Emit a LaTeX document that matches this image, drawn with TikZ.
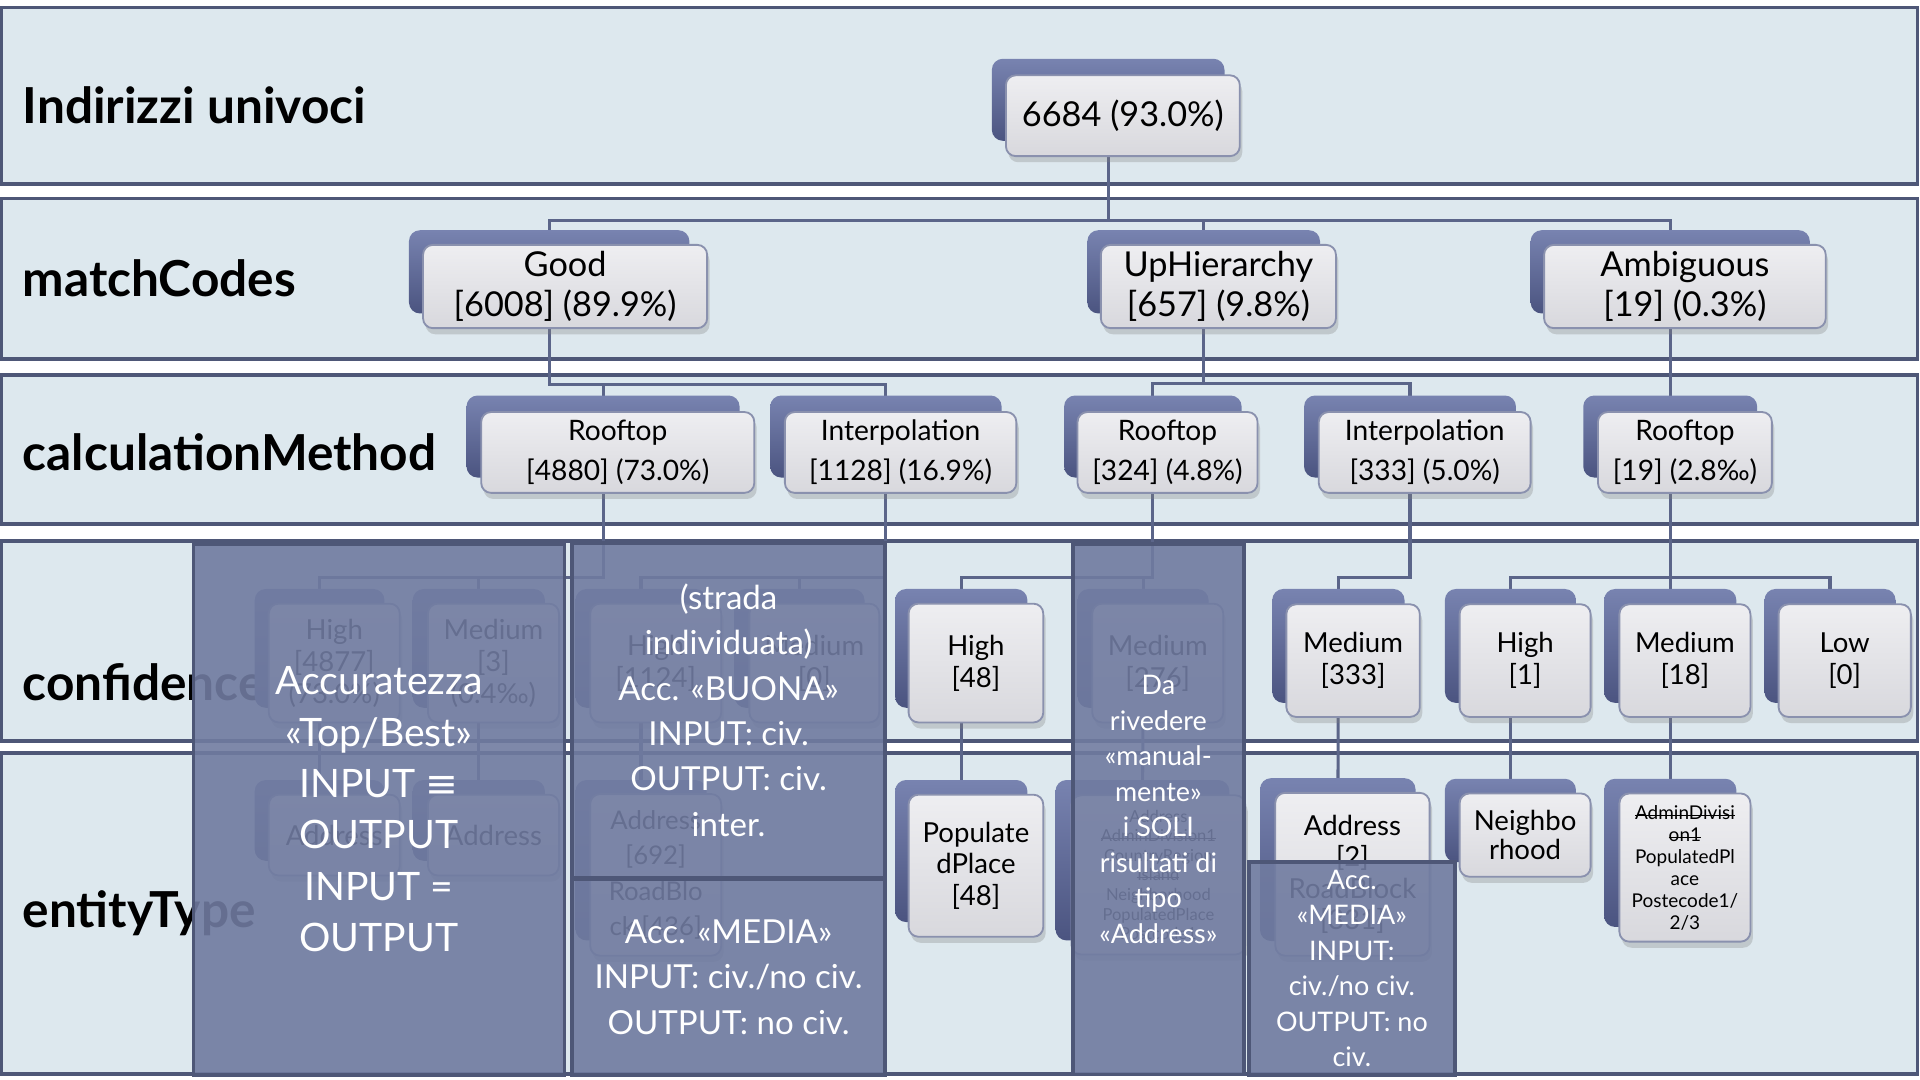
\documentclass[tikz,border=0pt]{standalone}
\usepackage{fontspec}
\setmainfont{Lato}
\newfontfamily\symf{DejaVu Sans}
\usetikzlibrary{shadows}

\newsavebox\strkbox
\newcommand\strk[1]{\sbox\strkbox{#1}\rlap{\raisebox{0.3ex}{\rule{\wd\strkbox}{0.07em}}}\usebox\strkbox}

\definecolor{bandfill}{HTML}{DDE8EE}
\definecolor{bandline}{HTML}{4E5777}
\definecolor{linkc}{HTML}{5B6589}
\definecolor{backtop}{HTML}{7883B0}
\definecolor{backbot}{HTML}{4B5480}
\definecolor{fronttop}{HTML}{EEEEF1}
\definecolor{frontbot}{HTML}{D8D8DD}
\definecolor{frontline}{HTML}{8A91AE}
\definecolor{ovl}{HTML}{707BA0}

\pgfdeclarelayer{bands}
\pgfdeclarelayer{links}
\pgfsetlayers{bands,links,main}

\begin{document}
\begin{tikzpicture}[x=1pt, y=-1pt,
    band/.style={draw=bandline, fill=bandfill, line width=3pt},
    bandlabel/.style={anchor=west, font=\fontsize{40.5}{44}\selectfont\bfseries},
    back/.style={rounded corners=9pt, top color=backtop, bottom color=backbot, draw=none, inner sep=0pt, outer sep=0pt},
    front/.style={rounded corners=8pt, top color=fronttop, bottom color=frontbot, draw=frontline, line width=1.5pt,
        inner sep=0pt, align=center, drop shadow={shadow xshift=2pt, shadow yshift=-5pt, opacity=0.3}},
    tA/.style={font=\fontsize{28}{33}\selectfont},
    tB/.style={font=\fontsize{23}{33}\selectfont},
    tC/.style={font=\fontsize{22.5}{26}\selectfont},
    tD/.style={font=\fontsize{15.5}{18}\selectfont},
    tE/.style={font=\fontsize{13.5}{16}\selectfont},
    link/.style={draw=linkc, line width=2.5pt},
    note/.style={draw=bandline, line width=3pt, fill=ovl, fill opacity=0.9, text opacity=1, text=white,
        align=center, inner sep=0pt}]

    \useasboundingbox (0,0) rectangle (1568,882);

    % Bands
    \begin{pgfonlayer}{bands}
        \draw[band] (1,6) rectangle (1566,150);
        \draw[band] (1,162) rectangle (1566,293);
        \draw[band] (1,306) rectangle (1566,428);
        \draw[band] (1,442) rectangle (1566,605);
        \draw[band] (1,615) rectangle (1566,877);
    \end{pgfonlayer}

    % Band labels
    \node[bandlabel] (lab1) at (15,86) {Indirizzi univoci};
    \node[bandlabel] (lab2) at (15,227) {matchCodes};
    \node[bandlabel] (lab3) at (15,369) {calculationMethod};
    \node[bandlabel] (lab4) at (15,557) {confidence};
    \node[bandlabel] (lab5) at (15,746) {entityType};

    % Indirizzi univoci
    \node[back, minimum width=190pt, minimum height=67pt] (root) at (905,81.5) {};
    \node[front, tA, minimum width=191pt, minimum height=66pt] (root-f) at ([shift={(12,13)}]root.center) {6684 (93.0\%)};

    % matchCodes
    \node[back, minimum width=229pt, minimum height=68pt] (good) at (448.5,222) {};
    \node[front, tA, minimum width=232pt, minimum height=68pt] (good-f) at ([shift={(13,12)}]good.center) {Good\\{[6008] (89.9\%)}};
    \node[back, minimum width=190pt, minimum height=68pt] (uph) at (983,222) {};
    \node[front, tA, minimum width=192pt, minimum height=68pt] (uph-f) at ([shift={(12,12)}]uph.center) {UpHierarchy\\{[657] (9.8\%)}};
    \node[back, minimum width=228pt, minimum height=68pt] (amb) at (1364,222) {};
    \node[front, tA, minimum width=230pt, minimum height=68pt] (amb-f) at ([shift={(12,12)}]amb.center) {Ambiguous\\{[19] (0.3\%)}};

    % calculationMethod
    \node[back, minimum width=223pt, minimum height=67pt] (roof1) at (492.5,356.5) {};
    \node[front, tB, minimum width=223pt, minimum height=66pt] (roof1-f) at ([shift={(12,13)}]roof1.center) {Rooftop\\{[4880] (73.0\%)}};
    \node[back, minimum width=189pt, minimum height=67pt] (interp1) at (723.5,356.5) {};
    \node[front, tB, minimum width=189pt, minimum height=66pt] (interp1-f) at ([shift={(12,13)}]interp1.center) {Interpolation\\{[1128] (16.9\%)}};
    \node[back, minimum width=145pt, minimum height=67pt] (roof2) at (941.5,356.5) {};
    \node[front, tB, minimum width=147pt, minimum height=66pt] (roof2-f) at ([shift={(12,13)}]roof2.center) {Rooftop\\{[324] (4.8\%)}};
    \node[back, minimum width=173pt, minimum height=67pt] (interp2) at (1151.5,356.5) {};
    \node[front, tB, minimum width=173pt, minimum height=66pt] (interp2-f) at ([shift={(12,13)}]interp2.center) {Interpolation\\{[333] (5.0\%)}};
    \node[back, minimum width=142pt, minimum height=67pt] (roof3) at (1364,356.5) {};
    \node[front, tB, minimum width=142pt, minimum height=66pt] (roof3-f) at ([shift={(12,13)}]roof3.center) {Rooftop\\{[19] (2.8‰)}};

    % confidence
    \node[back, minimum width=106pt, minimum height=97pt] (hiA) at (261,529.5) {};
    \node[front, tC, minimum width=107pt, minimum height=97pt] (hiA-f) at ([shift={(12,12)}]hiA.center) {High\\{[4877]}\\(73.0\%)};
    \node[back, minimum width=108pt, minimum height=97pt] (meA) at (391,529.5) {};
    \node[front, tC, minimum width=107pt, minimum height=97pt] (meA-f) at ([shift={(12,12)}]meA.center) {Medium\\{[3]}\\(0.4‰)};
    \node[back, minimum width=107pt, minimum height=97pt] (hiB) at (523.5,529.5) {};
    \node[front, tC, minimum width=107pt, minimum height=97pt] (hiB-f) at ([shift={(12,12)}]hiB.center) {High\\{[1124]}};
    \node[back, minimum width=106pt, minimum height=97pt] (meB) at (653,529.5) {};
    \node[front, tC, minimum width=106pt, minimum height=97pt] (meB-f) at ([shift={(12,12)}]meB.center) {Medium\\{[0]}};
    \node[back, minimum width=108pt, minimum height=97pt] (hiC) at (785,529.5) {};
    \node[front, tC, minimum width=110pt, minimum height=97pt] (hiC-f) at ([shift={(12,12)}]hiC.center) {High\\{[48]}};
    \node[back, minimum width=107pt, minimum height=97pt] (meC) at (933.5,529.5) {};
    \node[front, tC, minimum width=107pt, minimum height=97pt] (meC-f) at ([shift={(12,12)}]meC.center) {Medium\\{[276]}};
    \node[back, minimum width=108pt, minimum height=93pt] (meD) at (1093,527.5) {};
    \node[front, tC, minimum width=109pt, minimum height=92pt] (meD-f) at ([shift={(12,12)}]meD.center) {Medium\\{[333]}};
    \node[back, minimum width=107pt, minimum height=93pt] (hiE) at (1233.5,527.5) {};
    \node[front, tC, minimum width=107pt, minimum height=92pt] (hiE-f) at ([shift={(12,12)}]hiE.center) {High\\{[1]}};
    \node[back, minimum width=108pt, minimum height=93pt] (meE) at (1364,527.5) {};
    \node[front, tC, minimum width=107pt, minimum height=92pt] (meE-f) at ([shift={(12,12)}]meE.center) {Medium\\{[18]}};
    \node[back, minimum width=107pt, minimum height=93pt] (loE) at (1494.5,527.5) {};
    \node[front, tC, minimum width=108pt, minimum height=92pt] (loE-f) at ([shift={(12,12)}]loE.center) {Low\\{[0]}};

    % entityType
    \node[back, minimum width=106pt, minimum height=66pt] (adA) at (261,670) {};
    \node[front, tC, minimum width=107pt, minimum height=66pt] (adA-f) at ([shift={(12,12)}]adA.center) {Address};
    \node[back, minimum width=108pt, minimum height=66pt] (adB) at (391,670) {};
    \node[front, tC, minimum width=107pt, minimum height=66pt] (adB-f) at ([shift={(12,12)}]adB.center) {Address};
    \node[back, minimum width=107pt, minimum height=131pt] (adrdB) at (523.5,702.5) {};
    \node[front, font=\fontsize{21}{29}\selectfont, minimum width=107pt, minimum height=132pt] (adrdB-f) at ([shift={(12,12)}]adrdB.center) {Address\\{[692]}\\RoadBlo\\ck [436]};
    \node[back, minimum width=108pt, minimum height=116pt] (ppC) at (785,695) {};
    \node[front, font=\fontsize{22.5}{25.5}\selectfont, minimum width=110pt, minimum height=116pt] (ppC-f) at ([shift={(12,12)}]ppC.center) {Populate\\dPlace\\{[48]}};
    \node[back, minimum width=142pt, minimum height=131pt] (mulC) at (933,702.5) {};
    \node[front, tE, minimum width=142pt, minimum height=130pt] (mulC-f) at ([shift={(13,12)}]mulC.center) {Address\\\strk{AdminDivision1}\\CountryRegion\\\strk{Island}\\Neighborhood\\PopulatedPlace\\Postcode1};
    \node[back, minimum width=127pt, minimum height=133pt] (adrdD) at (1092.5,702) {};
    \node[front, font=\fontsize{22.5}{25.5}\selectfont, minimum width=126pt, minimum height=133pt] (adrdD-f) at ([shift={(12,12)}]adrdD.center) {Address\\{[2]}\\RoadBlock\\{[331]}};
    \node[back, minimum width=107pt, minimum height=68pt] (nbE) at (1233.5,670) {};
    \node[front, font=\fontsize{22.5}{24}\selectfont, minimum width=107pt, minimum height=68pt] (nbE-f) at ([shift={(12,12)}]nbE.center) {Neighbo\\rhood};
    \node[back, minimum width=108pt, minimum height=121pt] (adminE) at (1364,696.5) {};
    \node[front, tD, minimum width=107pt, minimum height=121pt] (adminE-f) at ([shift={(12,12)}]adminE.center) {\strk{AdminDivisi}\\\strk{on1}\\PopulatedPl\\ace\\Postecode1/\\2/3};

    % Connectors
    \begin{pgfonlayer}{links}
        \draw[link] (root) -- (root |- 0,180) -| (good);
        \draw[link] (root |- 0,180) -| (uph);
        \draw[link] (root |- 0,180) -| (amb);
        \draw[link] (good) -- (good |- 0,314) -| (roof1);
        \draw[link] (good |- 0,314) -| (interp1);
        \draw[link] (uph) -- (uph |- 0,313) -| (roof2);
        \draw[link] (uph |- 0,313) -| (interp2);
        \draw[link] (amb) -- (roof3);
        \draw[link] (roof1) -- (roof1 |- 0,472) -| (hiA);
        \draw[link] (roof1 |- 0,472) -| (meA);
        \draw[link] (interp1) -- (interp1 |- 0,472) -| (hiB);
        \draw[link] (interp1 |- 0,472) -| (meB);
        \draw[link] (roof2) -- (roof2 |- 0,472) -| (hiC);
        \draw[link] (roof2 |- 0,472) -| (meC);
        \draw[link] (interp2) -- (interp2 |- 0,472) -| (meD);
        \draw[link] (roof3) -- (roof3 |- 0,472) -| (hiE);
        \draw[link] (roof3 |- 0,472) -| (loE);
        \draw[link] (roof3) -- (meE);
        \draw[link] (hiA) -- (adA);
        \draw[link] (meA) -- (adB);
        \draw[link] (hiB) -- (adrdB);
        \draw[link] (hiC) -- (ppC);
        \draw[link] (meC) -- (mulC);
        \draw[link] (meD) -- (adrdD);
        \draw[link] (hiE) -- (nbE);
        \draw[link] (meE) -- (adminE);
    \end{pgfonlayer}

    % Notes over the tree
    \node[note, minimum width=303pt, minimum height=434pt, font=\fontsize{32}{42}\selectfont] (noteA) at (309.5,661) {Accuratezza\\«Top/Best»\\INPUT {\symf ≡}\\OUTPUT\\INPUT =\\OUTPUT};
    \node[note, minimum width=256pt, minimum height=273pt, font=\fontsize{27}{37}\selectfont] (noteB) at (595,580) {(strada\\individuata)\\Acc. «BUONA»\\INPUT: civ.\\OUTPUT: civ.\\inter.};
    \node[note, minimum width=256pt, minimum height=160pt, font=\fontsize{27}{37}\selectfont] (noteC) at (595,798) {Acc. «MEDIA»\\INPUT: civ./no civ.\\OUTPUT: no civ.};
    \node[note, minimum width=140pt, minimum height=433pt, font=\fontsize{22}{29}\selectfont] (noteD) at (946,661) {Da\\rivedere\\«manual-\\mente»\\i SOLI\\risultati di\\tipo\\«Address»};
    \node[note, minimum width=168pt, minimum height=174pt, font=\fontsize{22}{29}\selectfont] (noteE) at (1104,791) {Acc.\\«MEDIA»\\INPUT:\\civ./no civ.\\OUTPUT: no\\civ.};

\end{tikzpicture}
\end{document}
